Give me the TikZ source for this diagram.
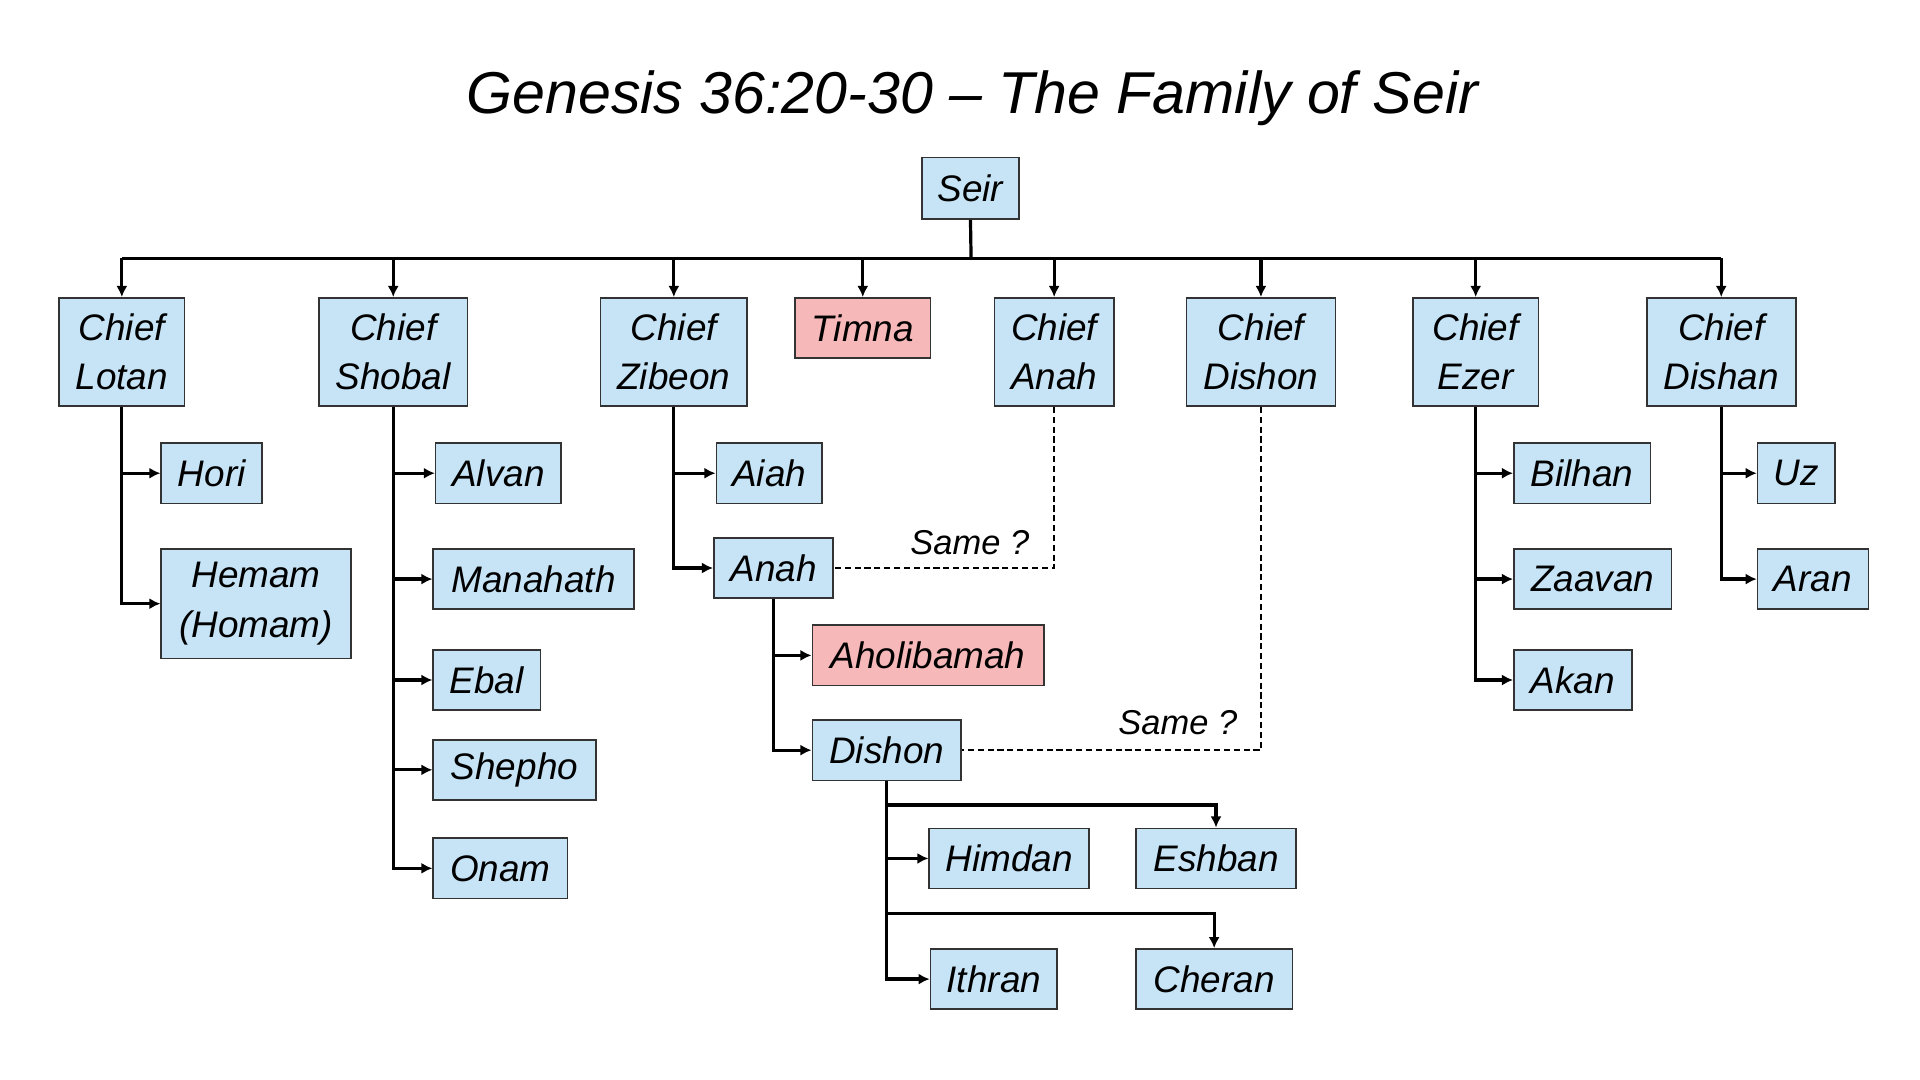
\documentclass[tikz,border=0pt]{standalone}
\usepackage{fontspec}
\setmainfont{Liberation Sans}
\usetikzlibrary{arrows.meta}
\definecolor{bfill}{HTML}{C6E4F6}
\definecolor{pfill}{HTML}{F6B8B8}
\tikzset{
  bx/.style={draw=black!80,line width=1.3pt,fill=bfill,inner sep=0pt,align=center,font=\fontsize{30}{40}\selectfont\itshape},
  pk/.style={bx,fill=pfill},
  ln/.style={line width=2.6pt},
  arr/.style={line width=2.6pt,-{Latex[length=9pt,width=9pt]}},
  dsh/.style={line width=1.5pt,dash pattern=on 5pt off 3pt},
  lbl/.style={font=\fontsize{28}{34}\selectfont\itshape}
}
% \B{name}{x1}{x2}{y1}{y2}{text}{style}
\newcommand\B[7]{\node[#7,minimum width={(#3-#2)*1pt},minimum height={(#5-#4)*1pt}] (#1) at ({(#2+#3)/2},{(#4+#5)/2}) {#6};}
\begin{document}
\begin{tikzpicture}[x=1pt,y=-1pt]
\useasboundingbox[fill=white] (0,0) rectangle (1560,877.5);
\node[font=\fontsize{48}{56}\selectfont\itshape] (title) at (790,80) {Genesis 36:20-30 -- The Family of Seir};
\B{seir}{749}{828}{128}{178}{Seir}{bx}
\B{lotan}{48}{150}{242}{330}{Chief\\Lotan}{bx}
\B{shobal}{259}{380}{242}{330}{Chief\\Shobal}{bx}
\B{zibeon}{488}{607}{242}{330}{Chief\\Zibeon}{bx}
\B{timna}{646}{756}{242}{291}{Timna}{pk}
\B{anah}{808}{905}{242}{330}{Chief\\Anah}{bx}
\B{dishon}{964}{1085}{242}{330}{Chief\\Dishon}{bx}
\B{ezer}{1148}{1250}{242}{330}{Chief\\Ezer}{bx}
\B{dishan}{1338}{1459}{242}{330}{Chief\\Dishan}{bx}
\B{hori}{131}{213}{360}{409}{Hori}{bx}
\B{hemam}{131}{285}{446}{535}{Hemam\\(Homam)}{bx}
\B{alvan}{354}{456}{360}{409}{Alvan}{bx}
\B{manahath}{352}{515}{446}{495}{Manahath}{bx}
\B{ebal}{352}{439}{528}{577}{Ebal}{bx}
\B{shepho}{352}{484}{601}{650}{Shepho}{bx}
\B{onam}{352}{461}{681}{730}{Onam}{bx}
\B{aiah}{582}{668}{360}{409}{Aiah}{bx}
\B{anahc}{580}{677}{437}{486}{Anah}{bx}
\B{aholi}{660}{848}{508}{557}{Aholibamah}{pk}
\B{dishonc}{660}{781}{585}{634}{Dishon}{bx}
\B{himdan}{755}{885}{673}{722}{Himdan}{bx}
\B{eshban}{923}{1053}{673}{722}{Eshban}{bx}
\B{ithran}{756}{859}{771}{820}{Ithran}{bx}
\B{cheran}{923}{1050}{771}{820}{Cheran}{bx}
\B{bilhan}{1230}{1341}{360}{409}{Bilhan}{bx}
\B{zaavan}{1230}{1358}{446}{495}{Zaavan}{bx}
\B{akan}{1230}{1326}{528}{577}{Akan}{bx}
\B{uz}{1428}{1491}{360}{409}{Uz}{bx}
\B{aran}{1428}{1518}{446}{495}{Aran}{bx}
% top bar
\coordinate (bar) at (789,210);
\draw[ln] (seir.south) -- (bar);
\draw[ln] (lotan.north |- bar) -- (dishan.north |- bar);
\foreach \n in {lotan,shobal,zibeon,timna,anah,dishon,ezer,dishan}
  \draw[arr] (\n.north |- bar) -- (\n.north);
% children
\foreach \p/\c in {lotan/hori,lotan/hemam,shobal/alvan,shobal/manahath,shobal/ebal,shobal/shepho,shobal/onam,zibeon/aiah,zibeon/anahc,anahc/aholi,anahc/dishonc,dishonc/himdan,dishonc/ithran,ezer/bilhan,ezer/zaavan,ezer/akan,dishan/uz,dishan/aran}
  \draw[arr] (\p.south) |- (\c.west);
\coordinate (e1) at (dishonc.south |- 0,654);
\coordinate (c1) at (dishonc.south |- 0,742);
\draw[arr] (e1) -| (eshban.north);
\draw[arr] (c1) -| (cheran.north);
% dashed
\draw[dsh] (anah.south) |- (anahc.east);
\draw[dsh] (dishon.south) |- (dishonc.east);
\node[lbl] (s1) at (788,441) {Same ?};
\node[lbl] (s2) at (957,587) {Same ?};
\end{tikzpicture}
\end{document}
